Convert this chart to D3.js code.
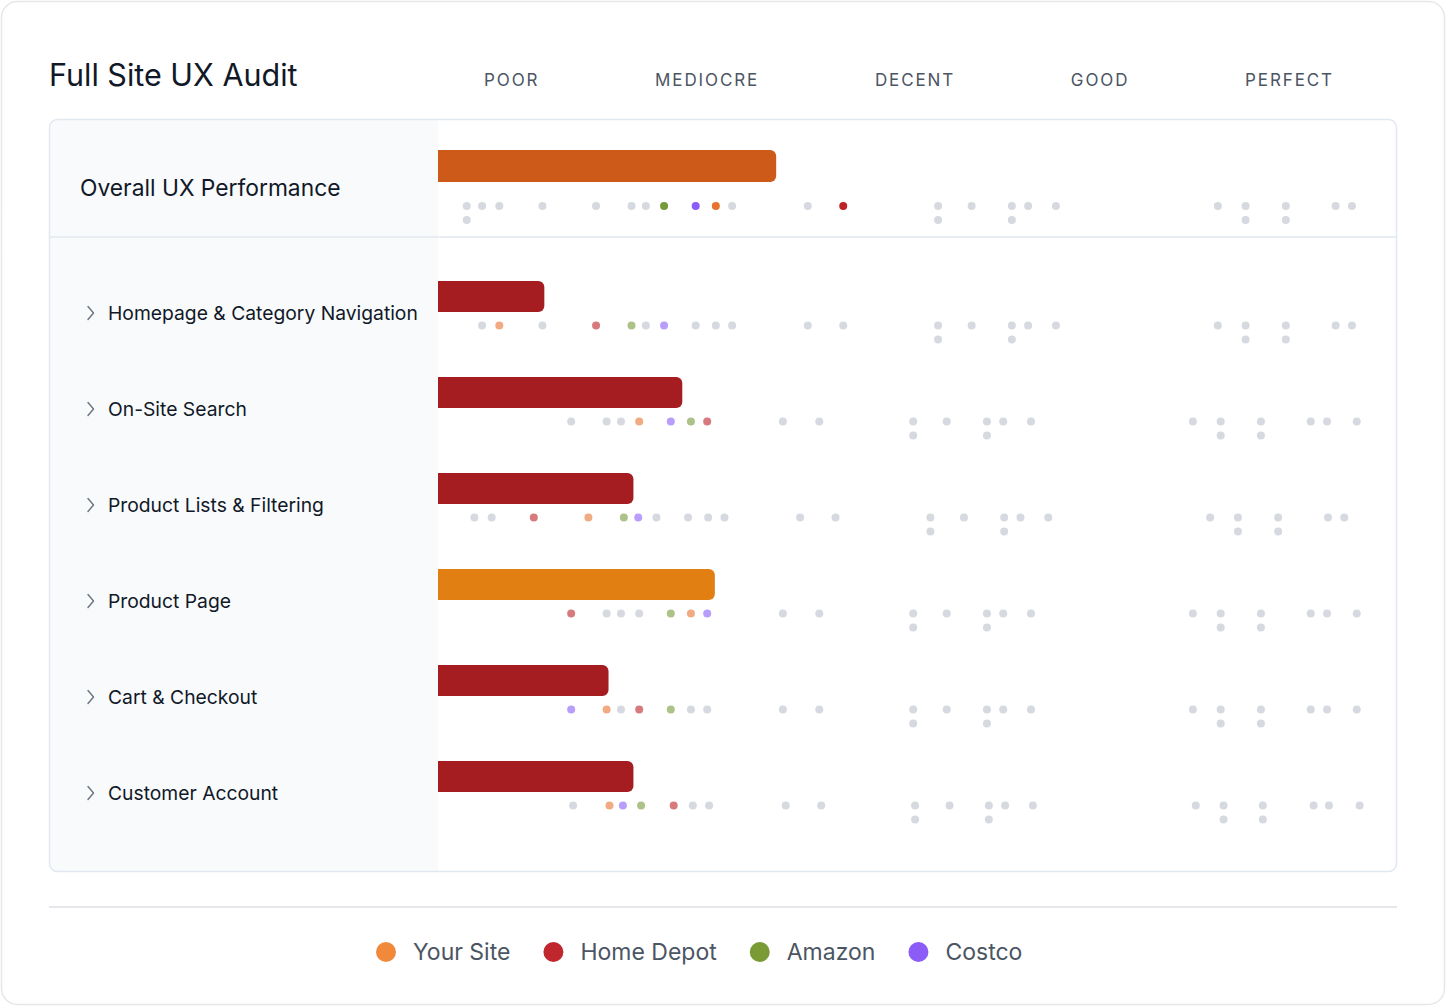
<!DOCTYPE html>
<html>
<head>
<meta charset="utf-8">
<script src="https://cdn.jsdelivr.net/npm/d3@7"></script>
<style>
  body { margin: 0; background: #fff; }
  svg { display: block; font-family: 'Inter', 'Noto Sans', sans-serif; }
</style>
</head>
<body>
<svg width="1446" height="1006"></svg>
<script>
const svg = d3.select('svg');

const width = +svg.attr('width');
const height = +svg.attr('height');

const titleText = 'Full Site UX Audit';
const ratingLabels = ['POOR', 'MEDIOCRE', 'DECENT', 'GOOD', 'PERFECT'];
const overallLabel = 'Overall UX Performance';
const sections = [
    'Homepage & Category Navigation',
    'On-Site Search',
    'Product Lists & Filtering',
    'Product Page',
    'Cart & Checkout',
    'Customer Account'
];
const sites = ['Your Site', 'Home Depot', 'Amazon', 'Costco'];

// bar scores (your site), overall first
const overallScore = 35.3;
const sectionScores = [11.1, 25.5, 20.4, 28.9, 17.8, 20.4];
const sectionRatings = ['Poor', 'Poor', 'Poor', 'Mediocre', 'Poor', 'Poor'];

// highlighted benchmark dots: overall, then one value per section
const yourSiteScores = [29.0, 6.4, 21.0, 15.7, 26.4, 17.6, 17.9];
const homeDepotScores = [42.3, 16.5, 28.1, 10.0, 13.9, 21.0, 24.6];
const amazonScores = [23.6, 20.2, 26.4, 19.4, 24.3, 24.3, 21.2];
const costcoScores = [26.9, 23.6, 24.3, 20.9, 28.1, 13.9, 19.3];

// all other benchmarked sites (grey dots), repeated values stack downwards
const otherOverall = [3.0, 3.0, 4.6, 6.4, 10.9, 16.5, 20.2, 21.7, 30.7, 38.6, 52.2, 52.2, 55.7, 59.9, 59.9, 61.6, 64.5, 81.4, 84.3, 84.3, 88.5, 88.5, 93.7, 95.4];
const otherHomepage = [4.6, 10.9, 21.7, 26.9, 29.0, 30.7, 38.6, 42.3, 52.2, 52.2, 55.7, 59.9, 59.9, 61.6, 64.5, 81.4, 84.3, 84.3, 88.5, 88.5, 93.7, 95.4];
const otherSearch = [13.9, 17.6, 19.1, 36.0, 39.8, 49.6, 49.6, 53.1, 57.3, 57.3, 59.0, 61.9, 78.8, 81.7, 81.7, 85.9, 85.9, 91.1, 92.8, 95.9];
const otherLists = [3.8, 5.6, 22.8, 26.1, 28.2, 29.9, 37.8, 41.5, 51.4, 51.4, 54.9, 59.1, 59.1, 60.8, 63.7, 80.6, 83.5, 83.5, 87.7, 87.7, 92.9, 94.6];
const otherProduct = [17.6, 19.1, 21.0, 36.0, 39.8, 49.6, 49.6, 53.1, 57.3, 57.3, 59.0, 61.9, 78.8, 81.7, 81.7, 85.9, 85.9, 91.1, 92.8, 95.9];
const otherCart = [19.1, 26.4, 28.1, 36.0, 39.8, 49.6, 49.6, 53.1, 57.3, 57.3, 59.0, 61.9, 78.8, 81.7, 81.7, 85.9, 85.9, 91.1, 92.8, 95.9];
const otherAccount = [14.1, 26.6, 28.3, 36.3, 40.0, 49.8, 49.8, 53.4, 57.5, 57.5, 59.2, 62.1, 79.1, 82.0, 82.0, 86.1, 86.1, 91.4, 93.0, 96.2];

const otherSections = [otherHomepage, otherSearch, otherLists, otherProduct, otherCart, otherAccount];
const siteScores = [yourSiteScores, homeDepotScores, amazonScores, costcoScores];

// layout
const card = { left: 49, right: 1397, top: 119, bottom: 872 };
const panelRight = 438;
const dotRadius = 4;
const stackStep = 14;

const siteColor = d3.scaleOrdinal()
    .domain(sites)
    .range(['#e8732e', '#bd2227', '#76993a', '#8b5cf6']);
const legendColor = d3.scaleOrdinal()
    .domain(sites)
    .range(['#f08a3a', '#c0262d', '#7a9a36', '#8b5cf6']);
const ratingColor = d3.scaleOrdinal()
    .domain(['Poor', 'Mediocre'])
    .range(['#a51d21', '#e27f12']);
const overallBarColor = '#cd5a19';

// score scale shared by bars and dots
const x = d3.scaleLinear()
    .domain([0, 100])
    .range([panelRight, card.right - 1]);

// section rows: bottom edge of each bar
const yRow = d3.scalePoint()
    .domain(sections)
    .range([312, 792]);

// build row objects
const rows = [{
    name: overallLabel,
    overall: true,
    score: overallScore,
    color: overallBarColor,
    others: otherOverall,
    highlights: sites.map((s, j) => ({ site: s, value: siteScores[j][0] })),
    barTop: 150, barHeight: 32, labelY: 187, dotY: 206
}].concat(sections.map((name, i) => ({
    name: name,
    overall: false,
    score: sectionScores[i],
    color: ratingColor(sectionRatings[i]),
    others: otherSections[i],
    highlights: sites.map((s, j) => ({ site: s, value: siteScores[j][i + 1] })),
    barTop: yRow(name) - 31, barHeight: 31, labelY: yRow(name) + 1, dotY: yRow(name) + 13.5
})));

// outer card
svg.append('rect')
    .attr('x', 1.5).attr('y', 1.5)
    .attr('width', width - 3).attr('height', height - 3)
    .attr('rx', 16)
    .attr('fill', '#fff')
    .attr('stroke', '#e5e7eb')
    .attr('stroke-width', 1.5);

// title
svg.append('text')
    .attr('x', 49).attr('y', 86)
    .attr('font-size', 30.5)
    .attr('fill', '#111827')
    .text(titleText);

// rating headers, spread with equal gaps
const headerLeft = 484, headerRight = 1334;
const headers = svg.append('g').selectAll('text')
    .data(ratingLabels)
    .enter()
    .append('text')
    .attr('y', 80)
    .attr('dominant-baseline', 'central')
    .attr('font-size', 17)
    .attr('letter-spacing', 1.9)
    .attr('fill', '#4b5563')
    .text(d => d);
const headerWidths = headers.nodes().map(n => n.getBBox().width);
const headerGap = (headerRight - headerLeft - d3.sum(headerWidths)) / (ratingLabels.length - 1);
let hx = headerLeft;
headers.attr('x', (d, i) => {
    const pos = hx;
    hx += headerWidths[i] + headerGap;
    return pos;
});

// inner card + left panel
svg.append('rect')
    .attr('x', card.left + 0.5).attr('y', card.top + 0.5)
    .attr('width', card.right - card.left - 1).attr('height', card.bottom - card.top - 1)
    .attr('rx', 8)
    .attr('fill', '#fff');

const r = 8;
svg.append('path')
    .attr('d', `M${panelRight},${card.top + 0.5}H${card.left + 0.5 + r}A${r},${r} 0 0 0 ${card.left + 0.5},${card.top + 0.5 + r}` +
        `V${card.bottom - 0.5 - r}A${r},${r} 0 0 0 ${card.left + 0.5 + r},${card.bottom - 0.5}H${panelRight}Z`)
    .attr('fill', '#f8fafc');

svg.append('line')
    .attr('x1', card.left).attr('x2', card.right)
    .attr('y1', 237).attr('y2', 237)
    .attr('stroke', '#e2e8f0')
    .attr('stroke-width', 1.5);

svg.append('rect')
    .attr('x', card.left + 0.5).attr('y', card.top + 0.5)
    .attr('width', card.right - card.left - 1).attr('height', card.bottom - card.top - 1)
    .attr('rx', 8)
    .attr('fill', 'none')
    .attr('stroke', '#e2e8f0')
    .attr('stroke-width', 1.5);

// bar shape: square on the left, rounded on the right
const barPath = function (x0, y0, x1, h, rad) {
    rad = Math.min(rad, x1 - x0, h / 2);
    return `M${x0},${y0}H${x1 - rad}A${rad},${rad} 0 0 1 ${x1},${y0 + rad}` +
        `V${y0 + h - rad}A${rad},${rad} 0 0 1 ${x1 - rad},${y0 + h}H${x0}Z`;
};

// stack repeated values
const stackDots = function (values) {
    const seen = new Map();
    return values.map(v => {
        const k = seen.get(v) || 0;
        seen.set(v, k + 1);
        return { value: v, level: k };
    });
};

const rowG = svg.selectAll('.row')
    .data(rows)
    .enter()
    .append('g')
    .attr('class', 'row');

// row labels
rowG.append('text')
    .attr('x', d => d.overall ? 80 : 108)
    .attr('y', d => d.labelY)
    .attr('dominant-baseline', 'central')
    .attr('font-size', d => d.overall ? 22.8 : 19.3)
    .attr('fill', '#111827')
    .text(d => d.name);

// chevrons for expandable sections
rowG.filter(d => !d.overall)
    .append('path')
    .attr('d', d => `M88,${d.labelY - 6.5}L93.5,${d.labelY}L88,${d.labelY + 6.5}`)
    .attr('fill', 'none')
    .attr('stroke', '#6b7280')
    .attr('stroke-width', 1.4)
    .attr('stroke-linecap', 'round')
    .attr('stroke-linejoin', 'round');

// bars
rowG.append('path')
    .attr('d', d => barPath(x(0), d.barTop, x(d.score), d.barHeight, 6))
    .attr('fill', d => d.color);

// grey benchmark dots, then the highlighted sites on top
rowG.each(function (d) {
    d3.select(this).selectAll('.other-dot')
        .data(stackDots(d.others))
        .enter()
        .append('circle')
        .attr('class', 'other-dot')
        .attr('cx', p => x(p.value))
        .attr('cy', p => d.dotY + p.level * stackStep)
        .attr('r', dotRadius)
        .attr('fill', '#d6d9df');

    d3.select(this).selectAll('.site-dot')
        .data(d.highlights)
        .enter()
        .append('circle')
        .attr('class', 'site-dot')
        .attr('cx', p => x(p.value))
        .attr('cy', d.dotY)
        .attr('r', dotRadius)
        .attr('fill', p => siteColor(p.site))
        .attr('fill-opacity', d.overall ? 1 : 0.6);
});

// legend
svg.append('line')
    .attr('x1', card.left).attr('x2', card.right)
    .attr('y1', 907).attr('y2', 907)
    .attr('stroke', '#e5e7eb')
    .attr('stroke-width', 2);

const legendG = svg.append('g');
let lx = 376;
sites.forEach(s => {
    legendG.append('circle')
        .attr('cx', lx + 10).attr('cy', 952)
        .attr('r', 10)
        .attr('fill', legendColor(s));
    const t = legendG.append('text')
        .attr('x', lx + 37).attr('y', 952)
        .attr('dominant-baseline', 'central')
        .attr('font-size', 23)
        .attr('fill', '#4b5563')
        .text(s);
    lx += 37 + t.node().getComputedTextLength() + 33;
});
</script>
</body>
</html>
